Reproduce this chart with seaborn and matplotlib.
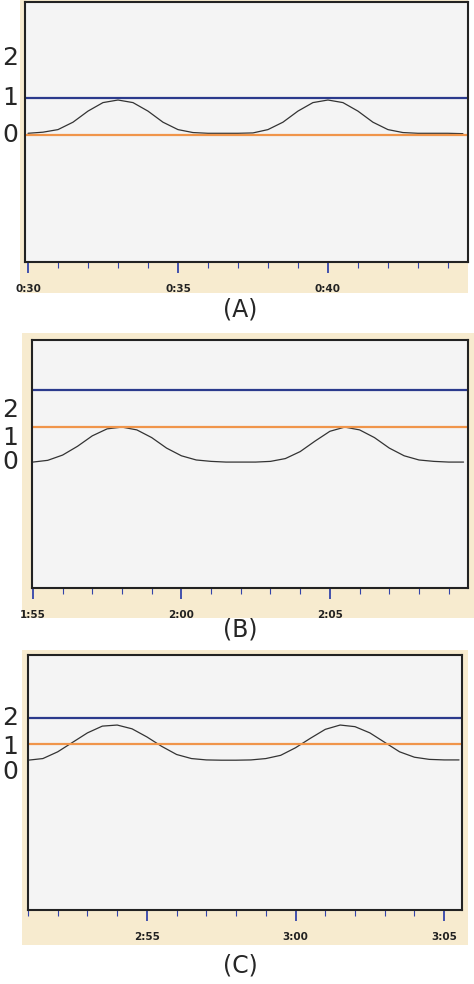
import numpy as np
import pandas as pd
import matplotlib
matplotlib.use("Agg")
import matplotlib.pyplot as plt
import seaborn as sns
from matplotlib.patches import Rectangle
from matplotlib.ticker import MultipleLocator, FuncFormatter

sns.set_style("white")
plt.rcParams['font.family'] = ['DejaVu Sans']

# ---- data ----
times_a = [30 + 0.5 * i for i in range(30)]
vals_a = [0.05, 0.08, 0.15, 0.35, 0.65, 0.88, 0.95, 0.88, 0.65, 0.35, 0.15, 0.07, 0.05, 0.05, 0.05,
          0.06, 0.15, 0.35, 0.65, 0.88, 0.95, 0.88, 0.65, 0.35, 0.15, 0.07, 0.05, 0.05, 0.05, 0.04]
blue_a, orange_a = 1.0, 0.0

times_b = [115 + 0.5 * i for i in range(30)]
vals_b = [0.0, 0.05, 0.2, 0.45, 0.75, 0.95, 1.0, 0.92, 0.7, 0.4, 0.18, 0.06, 0.02, 0.0, 0.0, 0.0,
          0.02, 0.1, 0.3, 0.6, 0.88, 1.0, 0.92, 0.7, 0.4, 0.18, 0.06, 0.02, 0.0, 0.0]
blue_b, orange_b = 2.06, 1.0

times_c = [171 + 0.5 * i for i in range(30)]
vals_c = [0.44, 0.5, 0.75, 1.1, 1.45, 1.7, 1.74, 1.6, 1.3, 0.95, 0.65, 0.5, 0.45, 0.44, 0.44, 0.45,
          0.5, 0.62, 0.9, 1.25, 1.58, 1.74, 1.68, 1.45, 1.1, 0.75, 0.55, 0.47, 0.45, 0.45]
blue_c, orange_c = 2.0, 1.04

tick_fmt = lambda v, p: f"{int(v)//60}:{int(v)%60:02d}"

W, H = 474, 984
fig = plt.figure(figsize=(W / 100, H / 100), dpi=100)
BEIGE = "#f7ebcf"

def box(x0, y0, x1, y1):
    return [x0 / W, 1 - y1 / H, (x1 - x0) / W, (y1 - y0) / H]

panels = [
    ((25, 2, 468, 262), (20, 0, 468, 293), (29.9, 44.67), (-3.43, 3.6), "(A)", 310, (58, 98, 135),
     times_a, vals_a, blue_a, orange_a),
    ((32, 340, 468, 588), (22, 333, 474, 618), (114.97, 129.65), (-3.6, 3.49), "(B)", 630, (410, 438, 462),
     times_b, vals_b, blue_b, orange_b),
    ((28, 655, 462, 910), (22, 650, 468, 945), (171.0, 185.6), (-5.1, 4.33), "(C)", 965, (718, 747, 772),
     times_c, vals_c, blue_c, orange_c),
]

for (pb, sb, xl, yl, lab, laby, ylys, t, v, bl, orl) in panels:
    bg = fig.add_axes(box(*sb))
    bg.set_facecolor(BEIGE)
    bg.set_axis_off()
    bg.add_patch(Rectangle((0, 0), 1, 1, transform=bg.transAxes, color=BEIGE))
    bg.set_zorder(-5)
    ax = fig.add_axes(box(*pb))
    ax.set_zorder(1)
    ax.set_facecolor("#f4f4f4")
    df = pd.DataFrame({"t": t, "v": v})
    sns.lineplot(data=df, x="t", y="v", ax=ax, color="#333333", lw=0.9)
    ax.axhline(bl, color="#2b3a8c", lw=1.6)
    ax.axhline(orl, color="#f0954a", lw=1.6)
    ax.set_xlim(*xl)
    ax.set_ylim(*yl)
    ax.set_xlabel("")
    ax.set_ylabel("")
    ax.set_yticks([])
    ax.xaxis.set_major_locator(MultipleLocator(5))
    ax.xaxis.set_minor_locator(MultipleLocator(1))
    ax.xaxis.set_major_formatter(FuncFormatter(tick_fmt))
    ax.tick_params(axis="x", which="major", direction="out", length=8, width=1.3, color="#3344aa",
                   labelsize=7.5, pad=8, bottom=True)
    ax.tick_params(axis="x", which="minor", direction="out", length=4, width=0.8, color="#3344aa", bottom=True)
    for lbl in ax.get_xticklabels():
        lbl.set_fontweight("bold")
        lbl.set_color("#222222")
    for s in ax.spines.values():
        s.set_color("#222222")
        s.set_linewidth(1.5)
    for txt, yy in zip(["2", "1", "0"], ylys):
        fig.text(10 / W, 1 - yy / H, txt, fontsize=18, ha="center", va="center")
    fig.text(240 / W, 1 - laby / H, lab, fontsize=17, ha="center", va="center")

fig.savefig("out.png", dpi=100)
